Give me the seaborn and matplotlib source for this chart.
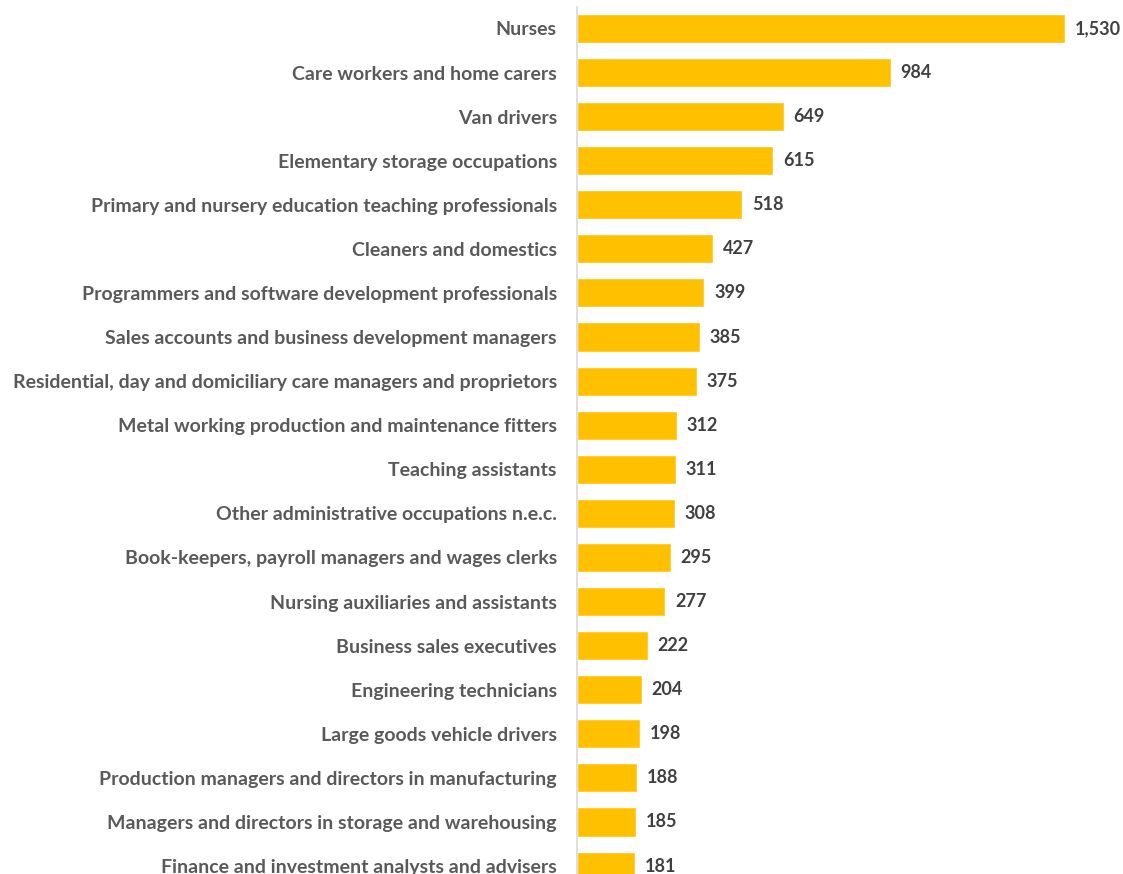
import matplotlib
matplotlib.use("Agg")
import matplotlib.pyplot as plt
import seaborn as sns
import pandas as pd

occupations = [
    "Nurses",
    "Care workers and home carers",
    "Van drivers",
    "Elementary storage occupations",
    "Primary and nursery education teaching professionals",
    "Cleaners and domestics",
    "Programmers and software development professionals",
    "Sales accounts and business development managers",
    "Residential, day and domiciliary care managers and proprietors",
    "Metal working production and maintenance fitters",
    "Teaching assistants",
    "Other administrative occupations n.e.c.",
    "Book-keepers, payroll managers and wages clerks",
    "Nursing auxiliaries and assistants",
    "Business sales executives",
    "Engineering technicians",
    "Large goods vehicle drivers",
    "Production managers and directors in manufacturing",
    "Managers and directors in storage and warehousing",
    "Finance and investment analysts and advisers",
]
values = [1530, 984, 649, 615, 518, 427, 399, 385, 375, 312,
          311, 308, 295, 277, 222, 204, 198, 188, 185, 181]

df = pd.DataFrame({"occupation": occupations, "value": values})

sns.set_theme(style="white")
plt.rcParams["font.family"] = ["Lato", "DejaVu Sans"]

W, H = 1123, 874
fig = plt.figure(figsize=(W / 100, H / 100), dpi=100)
ax = fig.add_axes([577 / W, 0, 1 - 577 / W, (H - 7) / H])

sns.barplot(data=df, y="occupation", x="value", orient="h", color="#FFC000",
            saturation=1, width=0.66, ax=ax)

ax.set_xlim(0, 546 / (488 / 1530))
ax.set_ylim(19.18, -0.486)
ax.set_xlabel("")
ax.set_ylabel("")
ax.set_xticks([])
for s in ["top", "right", "bottom"]:
    ax.spines[s].set_visible(False)
ax.spines["left"].set_color("#D9D9D9")
ax.spines["left"].set_linewidth(1.2)
ax.tick_params(axis="y", length=0, pad=14.5)
for lab in ax.get_yticklabels():
    lab.set_fontweight("bold")
    lab.set_color("#595959")
    lab.set_fontsize(14)

for cont in ax.containers:
    ax.bar_label(cont, labels=[f"{v:,}" for v in values], padding=7,
                 fontsize=13, fontweight="bold", color="#404040")

fig.savefig("out.png", dpi=100)
